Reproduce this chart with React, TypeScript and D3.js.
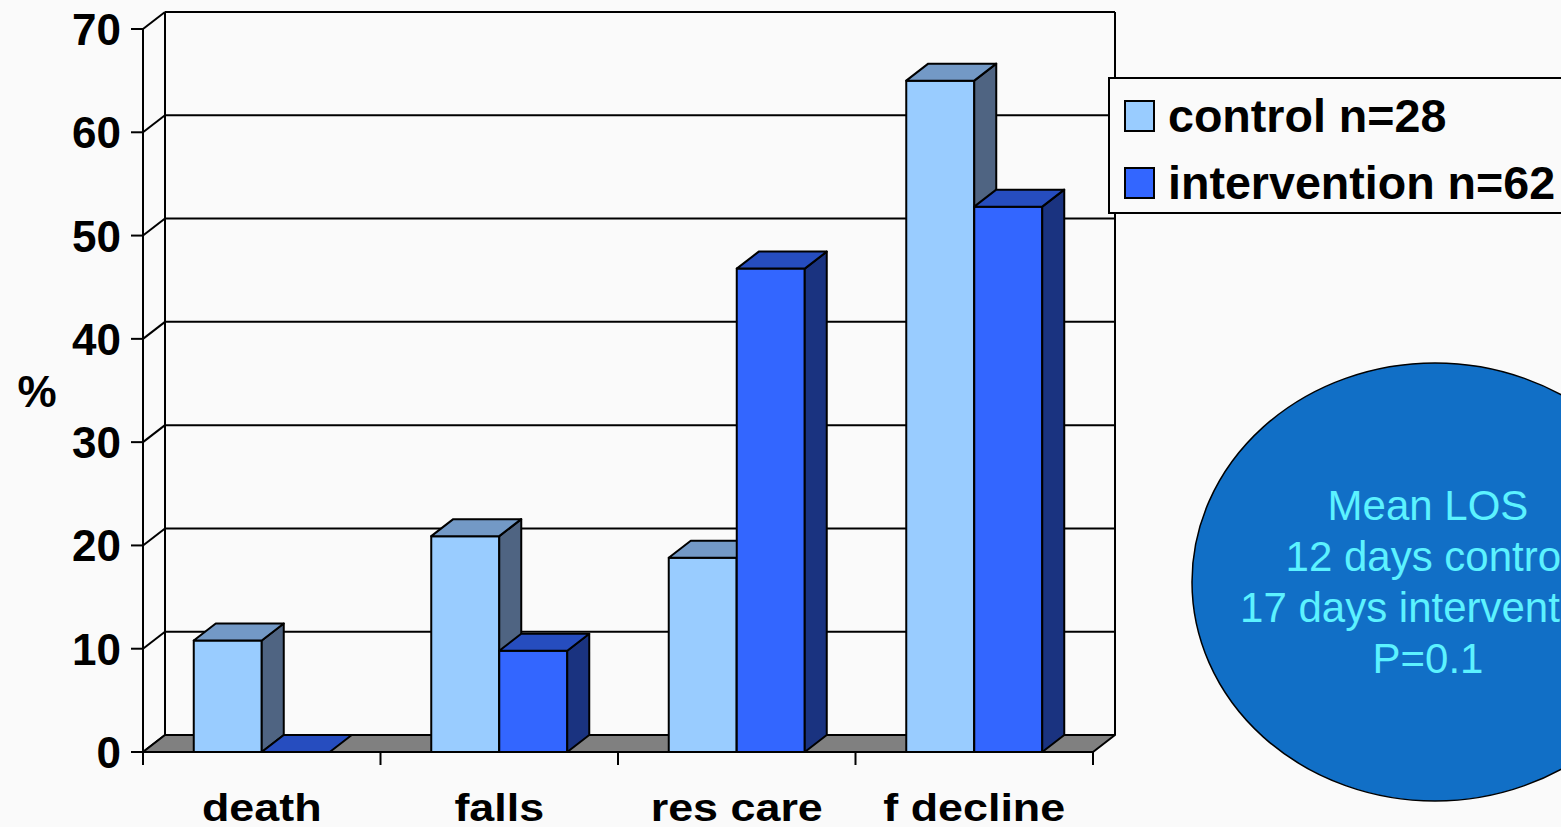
import React from "react";
import * as d3 from "d3";

// Outcome rates (%) by group
const categories = ["death", "falls", "res care", "f decline"];
const seriesNames = ["control n=28", "intervention n=62"];
const controlValues = [10.8, 20.9, 18.8, 65.0];
const interventionValues = [0, 9.8, 46.8, 52.8];
const yTicks = [0, 10, 20, 30, 40, 50, 60, 70];
const noteLines = ["Mean LOS", "12 days control", "17 days intervention", "P=0.1"];

const W = 1561;
const H = 827;

// 3D projection offsets for depth
const DX = 22;
const DY = -17;

const palette = [
  { front: "#99CCFF", top: "#7399C6", side: "#4F6482" },
  { front: "#3366FF", top: "#264DBF", side: "#1A3380" },
];

const FONT = "'Liberation Sans', Arial, Helvetica, sans-serif";

export default function App() {
  const x0 = 143;
  const x1 = 1093;
  const y = d3.scaleLinear().domain([0, 70]).range([752, 29]);
  const xBand = d3
    .scaleBand<string>()
    .domain(categories)
    .range([x0, x1])
    .paddingInner(0.4274)
    .paddingOuter(0.2137);
  const xSeries = d3
    .scaleBand<number>()
    .domain([0, 1])
    .range([0, xBand.bandwidth()]);

  const series = [controlValues, interventionValues];
  const y0 = y(0);
  const yTop = y(70);

  const pt = (px: number, py: number) => `${px},${py}`;

  const bars: React.ReactNode[] = [];
  categories.forEach((c, ci) => {
    series.forEach((vals, si) => {
      const v = vals[ci];
      const bx = (xBand(c) as number) + (xSeries(si) as number);
      const bw = xSeries.bandwidth();
      const by = y(v);
      const col = palette[si];
      const key = `${ci}-${si}`;
      bars.push(
        <g key={key} stroke="#000" strokeWidth={2} strokeLinejoin="round">
          {v > 0 && (
            <rect x={bx} y={by} width={bw} height={y0 - by} fill={col.front} />
          )}
          {v > 0 && (
            <polygon
              points={[
                pt(bx + bw, by),
                pt(bx + bw + DX, by + DY),
                pt(bx + bw + DX, y0 + DY),
                pt(bx + bw, y0),
              ].join(" ")}
              fill={col.side}
            />
          )}
          <polygon
            points={[
              pt(bx, by),
              pt(bx + DX, by + DY),
              pt(bx + bw + DX, by + DY),
              pt(bx + bw, by),
            ].join(" ")}
            fill={col.top}
          />
        </g>
      );
    });
  });

  const boundaries = [x0, ...categories.map((c) => (xBand(c) as number) + xBand.bandwidth() + xBand.step() * xBand.paddingInner() / 2)];
  boundaries[boundaries.length - 1] = x1;

  const legendX = 1109;
  const legendY = 78;

  return (
    <svg
      width={W}
      height={H}
      style={{ position: "absolute", left: 0, top: 0, background: "#fafafa" }}
      fontFamily={FONT}
    >
      {/* back and side walls */}
      <g stroke="#000" strokeWidth={2} fill="none">
        {yTicks.map((t) => (
          <g key={t}>
            <line x1={x0 + DX} x2={x1 + DX} y1={y(t) + DY} y2={y(t) + DY} />
            <line x1={x0} x2={x0 + DX} y1={y(t)} y2={y(t) + DY} />
          </g>
        ))}
        <line x1={x0 + DX} x2={x0 + DX} y1={yTop + DY} y2={y0 + DY} />
        <line x1={x1 + DX} x2={x1 + DX} y1={yTop + DY} y2={y0 + DY} />
        <line x1={x0} x2={x0} y1={yTop} y2={y0} />
      </g>

      {/* floor */}
      <polygon
        points={[pt(x0, y0), pt(x1, y0), pt(x1 + DX, y0 + DY), pt(x0 + DX, y0 + DY)].join(" ")}
        fill="#808080"
        stroke="#000"
        strokeWidth={2}
        strokeLinejoin="round"
      />

      {/* axis ticks */}
      <g stroke="#000" strokeWidth={2}>
        {yTicks.map((t) => (
          <line key={t} x1={x0 - 12} x2={x0} y1={y(t)} y2={y(t)} />
        ))}
        {boundaries.map((bx, i) => (
          <line key={i} x1={bx} x2={bx} y1={y0} y2={y0 + 13} />
        ))}
      </g>

      {bars}

      {/* y tick labels */}
      <g fontWeight="bold" fontSize={44} textAnchor="end" fill="#000">
        {yTicks.map((t) => (
          <text key={t} x={121} y={y(t) + 16}>
            {t}
          </text>
        ))}
      </g>
      <text x={37} y={407} fontWeight="bold" fontSize={44} textAnchor="middle">
        %
      </text>

      {/* category labels */}
      <g fontWeight="bold" fontSize={39} textAnchor="middle" fill="#000">
        {categories.map((c) => (
          <text
            key={c}
            transform={`translate(${(xBand(c) as number) + xBand.bandwidth() / 2},821) scale(1.15,1)`}
          >
            {c}
          </text>
        ))}
      </g>

      {/* legend */}
      <rect x={legendX} y={legendY} width={470} height={135} fill="#fafafa" stroke="#000" strokeWidth={2} />
      {seriesNames.map((s, i) => (
        <g key={s}>
          <rect
            x={1125}
            y={101 + i * 67}
            width={29}
            height={30}
            fill={palette[i].front}
            stroke="#000"
            strokeWidth={2}
          />
          <text x={1168} y={132 + i * 67} fontWeight="bold" fontSize={46.6} fill="#000">
            {s}
          </text>
        </g>
      ))}

      {/* length-of-stay note */}
      <ellipse cx={1435} cy={582} rx={243} ry={219} fill="#116FC6" stroke="#000" strokeWidth={1.5} />
      <g fontSize={42} textAnchor="middle" fill="#5CF2FF">
        {noteLines.map((l, i) => (
          <text key={l} x={1428} y={520 + i * 51}>
            {l}
          </text>
        ))}
      </g>
    </svg>
  );
}
